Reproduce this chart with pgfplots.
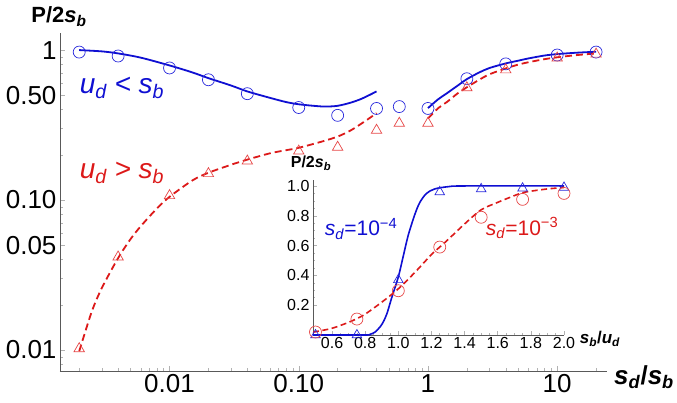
\documentclass[border=0pt]{standalone}
\usepackage{fontspec}
\setmainfont{Liberation Sans}
\usepackage{pgfplots}
\pgfplotsset{compat=1.18}
\definecolor{cblue}{RGB}{15,15,210}
\definecolor{cred}{RGB}{220,25,25}
\definecolor{mred}{RGB}{230,70,70}
\definecolor{mblue}{RGB}{40,40,220}
\begin{document}
\begin{tikzpicture}
\path[use as bounding box] (0pt,0pt) rectangle (677pt,403pt);
\begin{axis}[
 at={(60pt,32pt)}, anchor=south west, scale only axis,
 width=547pt, height=338pt,
 xmode=log, ymode=log,
 xmin=0.00142, xmax=24.3, ymin=0.00724, ymax=1.3,
 axis lines*=left,
 axis line style={gray!70!black, line width=0.6pt},
 xtick={0.01,0.1,1,10}, xticklabels={0.01,0.10,1,10},
 ytick={0.01,0.05,0.1,0.5,1}, yticklabels={0.01,0.05,0.10,0.50,1},
 minor xtick={0.002,0.003,0.004,0.005,0.006,0.007,0.008,0.009,0.02,0.03,0.04,0.05,0.06,0.07,0.08,0.09,0.2,0.3,0.4,0.5,0.6,0.7,0.8,0.9,2,3,4,5,6,7,8,9,20},
 minor ytick={0.008,0.009,0.02,0.03,0.04,0.06,0.07,0.08,0.09,0.2,0.3,0.4,0.6,0.7,0.8,0.9},
 tick align=inside, major tick length=5pt, minor tick length=3pt,
 tick style={gray!60, line width=0.5pt},
 tick label style={font=\fontsize{26}{26}\selectfont},
 /pgf/number format/assume math mode=true,
 clip=false,
]
% blue circles
\addplot[only marks, mark=o, mark size=6pt, mark options={draw=mblue, line width=0.7pt}] coordinates {
(0.002,0.97)(0.004,0.913)(0.01,0.76)(0.02,0.634)(0.04,0.512)(0.1,0.414)(0.2,0.367)(0.4,0.408)(0.6,0.42)(1,0.408)(2,0.644)(4,0.809)(10,0.927)(20,0.97)};
% red triangles
\addplot[only marks, mark=triangle, mark size=6pt, mark options={draw=mred, line width=0.7pt}] coordinates {
(0.002,0.0102)(0.004,0.0417)(0.01,0.107)(0.02,0.150)(0.04,0.182)(0.1,0.212)(0.2,0.225)(0.4,0.292)(0.6,0.325)(1,0.325)(2,0.561)(4,0.738)(10,0.885)(20,0.94)};
% blue solid left
\addplot[cblue, line width=1.8pt, smooth, no marks] coordinates {
(0.002,1.0)(0.003,0.98)(0.004,0.95)(0.006,0.89)(0.01,0.79)(0.015,0.71)(0.02,0.65)(0.03,0.58)(0.04,0.53)(0.06,0.48)(0.08,0.45)(0.1,0.435)(0.13,0.425)(0.16,0.42)(0.2,0.425)(0.25,0.445)(0.3,0.47)(0.35,0.5)(0.4,0.53)};
% blue solid right
\addplot[cblue, line width=1.8pt, smooth, no marks] coordinates {
(1,0.41)(1.2,0.47)(1.4,0.515)(1.7,0.58)(2,0.64)(2.5,0.71)(3,0.76)(4,0.815)(5,0.85)(6,0.88)(8,0.92)(10,0.94)(14,0.96)(20,0.975)};
% red dashed left
\addplot[cred, line width=1.8pt, smooth, dash pattern=on 7pt off 4pt, no marks] coordinates {
(0.002,0.0098)(0.0025,0.018)(0.003,0.026)(0.004,0.041)(0.005,0.055)(0.006,0.067)(0.008,0.088)(0.01,0.105)(0.015,0.135)(0.02,0.152)(0.03,0.172)(0.04,0.186)(0.06,0.205)(0.08,0.215)(0.1,0.223)(0.15,0.245)(0.2,0.265)(0.25,0.29)(0.3,0.32)(0.35,0.35)(0.4,0.38)};
% red dashed right
\addplot[cred, line width=1.8pt, smooth, dash pattern=on 7pt off 4pt, no marks] coordinates {
(1,0.35)(1.2,0.41)(1.4,0.45)(1.7,0.515)(2,0.565)(2.5,0.635)(3,0.69)(4,0.755)(5,0.8)(6,0.83)(8,0.87)(10,0.895)(14,0.925)(20,0.95)};
\end{axis}
% inset
\begin{axis}[
 at={(313pt,68pt)}, anchor=south west, scale only axis,
 width=251pt, height=155pt,
 xmin=0.485, xmax=2.0, ymin=0, ymax=1.04,
 axis lines*=left,
 axis line style={gray!70!black, line width=0.6pt},
 xtick={0.6,0.8,1.0,1.2,1.4,1.6,1.8,2.0},
 ytick={0.2,0.4,0.6,0.8,1.0},
 xticklabels={0.6,0.8,1.0,1.2,1.4,1.6,1.8,2.0},
 yticklabels={0.2,0.4,0.6,0.8,1.0},
 minor tick num=3,
 tick align=inside, major tick length=4pt, minor tick length=2pt,
 tick style={gray!60, line width=0.5pt},
 tick label style={font=\fontsize{16}{16}\selectfont},
 xticklabel style={yshift=1pt},
 /pgf/number format/assume math mode=true,
 clip=false,
]
\addplot[cblue, line width=1.6pt, smooth, no marks] coordinates {
(0.485,0)(0.8,0)(0.83,0.005)(0.86,0.02)(0.9,0.07)(0.93,0.14)(0.96,0.25)(1.0,0.39)(1.03,0.53)(1.06,0.67)(1.1,0.81)(1.13,0.89)(1.17,0.95)(1.22,0.98)(1.3,0.995)(1.4,1.0)(2.0,1.0)};
\addplot[cred, line width=1.6pt, smooth, dash pattern=on 6pt off 3.5pt, no marks] coordinates {
(0.485,0.02)(0.5,0.022)(0.6,0.045)(0.7,0.085)(0.75,0.11)(0.8,0.14)(0.9,0.22)(1.0,0.31)(1.1,0.42)(1.2,0.54)(1.25,0.59)(1.3,0.64)(1.4,0.745)(1.5,0.84)(1.6,0.89)(1.7,0.935)(1.75,0.955)(1.8,0.965)(1.9,0.98)(2.0,0.99)};
\addplot[only marks, mark=triangle, mark size=5.5pt, mark options={draw=mblue, line width=0.7pt}] coordinates {
(0.5,0)(0.75,0)(1.0,0.37)(1.25,0.96)(1.5,0.98)(1.75,0.985)(2.0,0.99)};
\addplot[only marks, mark=o, mark size=6pt, mark options={draw=mred, line width=0.7pt}] coordinates {
(0.5,0.02)(0.75,0.107)(1.0,0.297)(1.25,0.59)(1.5,0.79)(1.75,0.91)(2.0,0.95)};
\end{axis}
% labels
\node[font=\fontsize{22}{22}\selectfont\bfseries] at (59pt,386pt) {P/2\textit{s}\textsubscript{\textit{b}}};
\node[font=\fontsize{26}{26}\selectfont\bfseries] at (644pt,26pt) {\textit{s}\textsubscript{\textit{d}}/\textit{s}\textsubscript{\textit{b}}};
\node[font=\fontsize{28}{28}\selectfont\itshape, text=cblue] at (122pt,315pt) {u\textsubscript{d} < s\textsubscript{b}};
\node[font=\fontsize{28}{28}\selectfont\itshape, text=cred] at (122pt,230pt) {u\textsubscript{d} > s\textsubscript{b}};
\node[font=\fontsize{16}{16}\selectfont\bfseries] at (311pt,240pt) {P/2\textit{s}\textsubscript{\textit{b}}};
\node[font=\fontsize{17}{17}\selectfont\bfseries] at (600pt,64pt) {\textit{s}\textsubscript{\textit{b}}/\textit{u}\textsubscript{\textit{d}}};
\node[font=\fontsize{21}{21}\selectfont, text=cblue] at (361pt,174pt) {\textit{s}\textsubscript{\textit{d}}=10\textsuperscript{−4}};
\node[font=\fontsize{21}{21}\selectfont, text=cred] at (522pt,175pt) {\textit{s}\textsubscript{\textit{d}}=10\textsuperscript{−3}};
\end{tikzpicture}
\end{document}
